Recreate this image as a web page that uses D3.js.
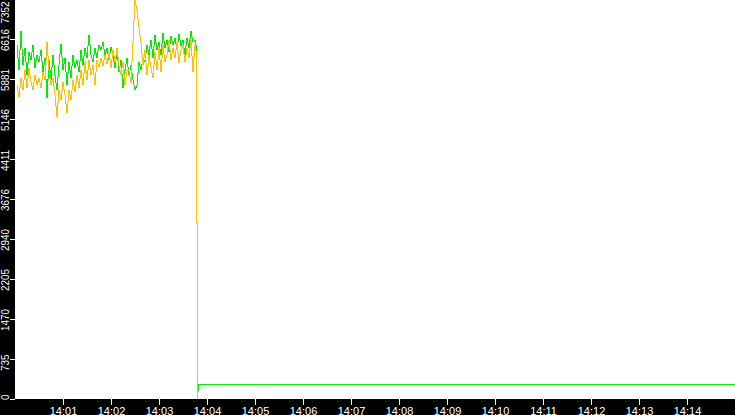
<!DOCTYPE html>
<html>
<head>
<meta charset="utf-8">
<script src="https://cdnjs.cloudflare.com/ajax/libs/d3/7.8.5/d3.min.js"></script>
<style>
html, body { margin: 0; padding: 0; background: #fff; overflow: hidden; }
svg { display: block; }
.axis text { font-family: "Liberation Sans Narrow", "Liberation Sans", sans-serif; font-size: 11px; fill: #fff; }
.axis line { stroke: #fff; shape-rendering: crispEdges; }
</style>
</head>
<body>
<svg id="chart" width="735" height="415"></svg>
<script>
// sampled series: one value every 2.5 s starting at sampleStart
const sampleStart = '14:00:02.500';
const sampleStepMs = 2500;

const greenValues = [
  6507, 6047, 6764, 6139, 6451, 5955, 6378, 6231, 6507, 6084,
  6323, 6194, 6415, 6010, 6268, 5532, 6231, 5863, 6323, 5955,
  5679, 6139, 6525, 6047, 6268, 5771, 6194, 5900, 6323, 6084,
  6231, 6010, 6415, 6139, 6451, 6268, 6690, 6323, 6194, 6451,
  6268, 6507, 6415, 6562, 6323, 6451, 6231, 6470, 6323, 6084,
  6415, 6010, 6231, 5716, 6047, 6268, 5955, 6139, 5863, 5679,
  5771, 6194, 6047, 6268, 6194, 6507, 6323, 6598, 6268, 6690,
  6415, 6562, 6323, 6727, 6451, 6598, 6378, 6672, 6507, 6635,
  6415, 6709, 6488, 6598, 6323, 6635, 6451, 6764, 6562, 6598
];

const yellowValues = [
  5771, 5551, 5900, 5679, 6047, 5716, 6084, 5826, 5679, 5955,
  5771, 5900, 5716, 6010, 5863, 6562, 6047, 5771, 5900, 5588,
  5183, 5679, 5496, 5826, 5588, 5257, 5679, 5496, 5863, 5643,
  5955, 5716, 6047, 5771, 6194, 5863, 6231, 5955, 6139, 5771,
  6231, 6102, 6268, 6121, 6323, 6157, 6378, 6084, 6415, 6194,
  6451, 6121, 5955, 6194, 5771, 6047, 6047, 5808, 6562, 7352,
  7150, 6837, 6562, 6139, 6415, 5955, 6323, 6084, 5900, 6378,
  6047, 6451, 6010, 6507, 6194, 6323, 6598, 6231, 6451, 6268,
  6562, 6176, 6415, 6507, 6194, 6451, 6268, 6598, 6010, 6507
];

// readings around the drop, and the flat value green keeps afterwards
const yellowDropTimes = ['14:03:46.250', '14:03:46.250', '14:03:47.500', '14:03:47.500'];
const yellowDropValues = [6400, 3253, 3253, 0];
const greenDropTimes = ['14:03:46.250', '14:03:46.250', '14:03:47.500', '14:03:47.500',
                        '14:03:48.750', '14:03:48.750', '14:15:00.000'];
const greenDropValues = [6500, 3253, 3253, 165, 165, 276, 276];

const yTicks = [0, 735, 1470, 2205, 2940, 3676, 4411, 5146, 5881, 6616, 7352];
const yMax = 7352;
const xTickLabels = ['14:01', '14:02', '14:03', '14:04', '14:05', '14:06', '14:07',
                     '14:08', '14:09', '14:10', '14:11', '14:12', '14:13', '14:14'];
const timeDomain = ['14:00:00.000', '14:15:00.000'];

const svg = d3.select('#chart');
const W = 735, H = 415;
const left = 15, bottom = 399;

const parseTime = d3.timeParse('%H:%M:%S.%L');
const parseTick = d3.timeParse('%H:%M');

const x = d3.scaleTime().domain(timeDomain.map(parseTime)).range([left, W]);
const y = d3.scaleLinear().domain([0, yMax]).range([bottom, -1]);

const t0 = parseTime(sampleStart);
const toPoints = vals => vals.map((v, i) => ({ t: new Date(+t0 + i * sampleStepMs), v }));
const withTimes = (times, vals) => times.map((s, i) => ({ t: parseTime(s), v: vals[i] }));

const greenData = toPoints(greenValues).concat(withTimes(greenDropTimes, greenDropValues));
const yellowData = toPoints(yellowValues).concat(withTimes(yellowDropTimes, yellowDropValues));

// whole-pixel coordinates, drawn without anti-aliasing
const line = d3.line()
  .x(d => Math.round(x(d.t)))
  .y(d => Math.round(y(d.v)));

const plot = svg.append('g').attr('id', 'lines');
plot.append('path')
  .datum(greenData)
  .attr('d', line)
  .attr('fill', 'none')
  .attr('stroke', '#00ee00')
  .attr('stroke-width', 1)
  .attr('shape-rendering', 'crispEdges');
plot.append('path')
  .datum(yellowData)
  .attr('d', line)
  .attr('fill', 'none')
  .attr('stroke', '#ffc000')
  .attr('stroke-width', 1)
  .attr('shape-rendering', 'crispEdges');

// black axis strips
svg.append('rect').attr('x', 0).attr('y', 0).attr('width', left).attr('height', H).attr('fill', '#000');
svg.append('rect').attr('x', 0).attr('y', bottom).attr('width', W).attr('height', H - bottom).attr('fill', '#000');

// y axis, labels rotated and kept inside the strip
const yAxis = svg.append('g')
  .attr('class', 'axis')
  .attr('transform', `translate(${left},0)`)
  .call(d3.axisLeft(y).tickValues(yTicks).tickSize(5).tickFormat(d3.format('d')));
yAxis.select('.domain').remove();
yAxis.selectAll('text')
  .attr('x', null)
  .attr('dy', null)
  .attr('text-anchor', 'start')
  .each(function(d) {
    const len = this.getComputedTextLength() * 0.9;
    // bottom end of the rotated label sits a little below its tick
    let by = y(d) + 11.5;
    by = Math.max(len + 1, Math.min(bottom + 0.5, by));
    d3.select(this).attr('transform', `translate(-6,${by - y(d)}) rotate(-90) scale(0.9,1)`);
  });

// x axis
const xAxis = svg.append('g')
  .attr('class', 'axis')
  .attr('transform', `translate(0,${bottom})`)
  .call(d3.axisBottom(x)
    .tickValues(xTickLabels.map(parseTick))
    .tickSize(6)
    .tickFormat(d3.timeFormat('%H:%M')));
xAxis.select('.domain').remove();
xAxis.selectAll('text').attr('y', 15.5).attr('dy', null);
</script>
</body>
</html>
